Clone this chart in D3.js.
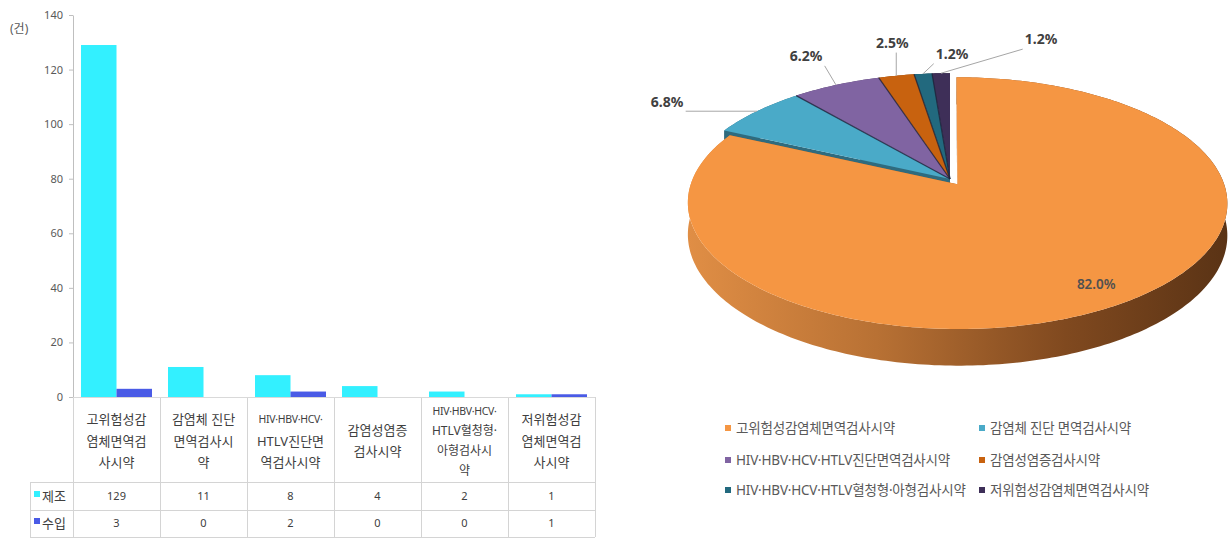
<!DOCTYPE html>
<html>
<head>
<meta charset="utf-8">
<script src="https://cdn.jsdelivr.net/npm/d3@7"></script>
<style>
  body { margin: 0; background: #fff; }
  svg { font-family: "Noto Sans", "Noto Sans CJK KR", sans-serif; }
</style>
</head>
<body>
<svg width="1231" height="540"></svg>
<script>
// ---- data ----
var categories = [
  "고위험성감염체면역검사시약",
  "감염체 진단 면역검사시약",
  "HIV·HBV·HCV·HTLV진단면역검사시약",
  "감염성염증검사시약",
  "HIV·HBV·HCV·HTLV혈청형·아형검사시약",
  "저위험성감염체면역검사시약"
];
// wrapped category labels as shown under the bars
var categoryLines = [
  ["고위험성감", "염체면역검", "사시약"],
  ["감염체 진단", "면역검사시", "약"],
  ["HIV·HBV·HCV·", "HTLV진단면", "역검사시약"],
  ["감염성염증", "검사시약"],
  ["HIV·HBV·HCV·", "HTLV혈청형·", "아형검사시", "약"],
  ["저위험성감", "염체면역검", "사시약"]
];
var seriesNames = ["제조", "수입"];
var manufacture = [129, 11, 8, 4, 2, 1];
var imported = [3, 0, 2, 0, 0, 1];
var yTicks = [0, 20, 40, 60, 80, 100, 120, 140];
var yUnit = "(건)";

var barColors = ["#33F0FF", "#4A5BE6"];
var pieColors = ["#F59643", "#4AAAC8", "#8064A2", "#C8620F", "#22697E", "#3E2F58"];

var svg = d3.select("svg");

// ---- left: grouped bar chart with data table ----
var x0 = d3.scaleBand().domain(categories).range([73, 595]);
var x1 = d3.scaleBand().domain(seriesNames).range([8, x0.bandwidth() - 8]);
var y = d3.scaleLinear().domain([0, 140]).range([397, 15]);

var yAxis = svg.append("g")
  .attr("transform", "translate(73,0)")
  .call(d3.axisLeft(y).tickValues(yTicks).tickSize(4).tickSizeOuter(0).tickPadding(6));
yAxis.select(".domain").attr("stroke", "#BFBFBF");
yAxis.selectAll(".tick line").attr("stroke", "#BFBFBF");
yAxis.selectAll("text")
  .attr("fill", "#595959")
  .style("font-size", "11px")
  .style("font-family", "'Noto Sans', sans-serif");

svg.append("text")
  .attr("x", 10).attr("y", 33)
  .attr("fill", "#595959")
  .style("font-size", "12px")
  .text(yUnit);

var seriesValues = [manufacture, imported];

var groups = svg.append("g")
  .selectAll("g")
  .data(categories)
  .enter()
  .append("g")
    .attr("transform", function(d) { return "translate(" + x0(d) + ",0)"; });

groups.selectAll("rect")
  .data(function(d, i) {
    return seriesNames.map(function(s, k) { return { s: s, k: k, v: seriesValues[k][i] }; });
  })
  .enter()
  .append("rect")
    .attr("x", function(d) { return x1(d.s); })
    .attr("width", x1.bandwidth())
    .attr("y", function(d) { return y(d.v); })
    .attr("height", function(d) { return y(0) - y(d.v); })
    .attr("fill", function(d) { return barColors[d.k]; });

// table grid
var grid = svg.append("g").attr("stroke", "#D4D4D4").attr("stroke-width", 1).attr("fill", "none");
var colEdges = categories.map(function(c) { return x0(c); }).concat([x0.range()[1]]);
colEdges.forEach(function(x) {
  grid.append("line").attr("x1", x + 0.5).attr("x2", x + 0.5).attr("y1", 397).attr("y2", 537);
});
grid.append("line").attr("x1", 30.5).attr("x2", 30.5).attr("y1", 482).attr("y2", 537);
[482, 510, 537].forEach(function(yy) {
  grid.append("line").attr("x1", 30).attr("x2", 595).attr("y1", yy + 0.5).attr("y2", yy + 0.5);
});
grid.append("line").attr("x1", 73).attr("x2", 595).attr("y1", 397.5).attr("y2", 397.5).attr("stroke", "#D9D9D9");

// category header text
groups.each(function(d, i) {
  var lines = categoryLines[i];
  var small = lines.length > 3;
  var lh = small ? 20 : 21.5;
  var y0 = 441 - (lines.length - 1) * lh / 2;
  var g = d3.select(this);
  lines.forEach(function(t, j) {
    var latin = /^HIV/.test(t);
    g.append("text")
      .attr("x", x0.bandwidth() / 2)
      .attr("y", y0 + j * lh)
      .attr("dy", "0.35em")
      .attr("text-anchor", "middle")
      .attr("fill", "#404040")
      .style("font-size", latin ? "10.5px" : (small ? "12px" : "13px"))
      .style("letter-spacing", latin ? "-0.3px" : "0px")
      .text(t);
  });
});

// table rows
var rowY = [496, 523];
seriesNames.forEach(function(s, k) {
  svg.append("rect")
    .attr("x", 34).attr("y", rowY[k] - 5).attr("width", 6).attr("height", 6)
    .attr("fill", barColors[k]);
  svg.append("text")
    .attr("x", 42).attr("y", rowY[k]).attr("dy", "0.35em")
    .attr("fill", "#404040").style("font-size", "13px")
    .text(s);
  groups.append("text")
    .attr("x", x0.bandwidth() / 2)
    .attr("y", rowY[k])
    .attr("dy", "0.35em")
    .attr("text-anchor", "middle")
    .attr("fill", "#404040")
    .style("font-size", "11px")
    .text(function(d, i) { return seriesValues[k][i]; });
});

// ---- right: 3D pie (perspective projection) ----
var pieValues = categories.map(function(c, i) { return manufacture[i] + imported[i]; });
var total = d3.sum(pieValues);
var slices = d3.pie().sort(null)(pieValues);

var P = { cx: 950, cy: 179, R: 265, Rt: 121.5, p: 0.148, D: 31 };
function proj(u, v, h) {
  var s = 1 / (1 - P.p * v);
  return [P.cx + P.R * u * s, P.cy + P.Rt * v * s + P.D * h * s];
}
slices.forEach(function(d, i) {
  var mid = (d.startAngle + d.endAngle) / 2;
  var e = i === 0 ? 0.052 : 0;
  d.du = e * Math.sin(mid);
  d.dv = -e * Math.cos(mid);
  d.mid = mid;
});
function pt(d, a, r, h) {
  return proj(d.du + r * Math.sin(a), d.dv - r * Math.cos(a), h);
}
function arcPts(d, a0, a1, h) {
  var n = Math.max(2, Math.ceil(Math.abs(a1 - a0) / (Math.PI / 180)) + 1);
  return d3.range(n).map(function(j) { return pt(d, a0 + (a1 - a0) * j / (n - 1), 1, h); });
}
var line = d3.line();

var defs = svg.append("defs");
var grad = defs.append("linearGradient")
  .attr("id", "sideGrad")
  .attr("gradientUnits", "userSpaceOnUse")
  .attr("x1", 688).attr("x2", 1227).attr("y1", 0).attr("y2", 0);
grad.append("stop").attr("offset", "0%").attr("stop-color", "#E08E45");
grad.append("stop").attr("offset", "35%").attr("stop-color", "#B87134");
grad.append("stop").attr("offset", "70%").attr("stop-color", "#80491F");
grad.append("stop").attr("offset", "100%").attr("stop-color", "#5A3315");

var pie = svg.append("g");
var order = d3.range(slices.length).reverse(); // back slices first, the big one last

// walls
order.forEach(function(i) {
  var d = slices[i];
  var dark = d3.color(pieColors[i]).darker(1.3).toString();
  // radial faces
  [d.startAngle, d.endAngle].forEach(function(a) {
    var q = [pt(d, a, 0, 0), pt(d, a, 1, 0), pt(d, a, 1, 1), pt(d, a, 0, 1)];
    pie.append("path").attr("d", line(q) + "Z").attr("fill", dark);
  });
  // outer wall
  var top = arcPts(d, d.startAngle, d.endAngle, 0);
  var bot = arcPts(d, d.startAngle, d.endAngle, 1).reverse();
  pie.append("path")
    .attr("d", line(top.concat(bot)) + "Z")
    .attr("fill", i === 0 ? "url(#sideGrad)" : dark);
});

// top faces
order.forEach(function(i) {
  var d = slices[i];
  var pts = [pt(d, 0, 0, 0)].concat(arcPts(d, d.startAngle, d.endAngle, 0));
  pie.append("path")
    .attr("d", line(pts) + "Z")
    .attr("fill", pieColors[i]);
});
// dark seams between the small slices
slices.slice(1).forEach(function(d, k) {
  if (k === 0) return;
  pie.append("path")
    .attr("d", line([pt(d, d.startAngle, 0, 0), pt(d, d.startAngle, 1, 0)]))
    .attr("stroke", "#1E2238").attr("stroke-width", 1.3).attr("stroke-opacity", 0.75);
});

// labels
var fmt = function(v) { return (v / total * 100).toFixed(1) + "%"; };
var labelNudge = [null, [-90, -9], [-30, -29], [-4, -33], [29, -20], [100, -34]];
slices.forEach(function(d, i) {
  if (i === 0) {
    var c = pt(d, d.mid, 0.86, 0);
    pie.append("text")
      .attr("x", c[0]).attr("y", c[1]).attr("dy", "0.35em")
      .attr("text-anchor", "middle")
      .attr("fill", "#505050")
      .style("font-size", "13.5px")
      .style("font-weight", "600")
      .text(fmt(d.value));
    return;
  }
  var rim = pt(d, d.mid, 1, 0);
  var lx = rim[0] + labelNudge[i][0], ly = rim[1] + labelNudge[i][1];
  var t = pie.append("text")
    .attr("x", lx).attr("y", ly).attr("dy", "0.35em")
    .attr("text-anchor", "middle")
    .attr("fill", "#404040")
    .style("font-size", "14px")
    .style("font-weight", "bold")
    .text(fmt(d.value));
  var b = t.node().getBBox();
  var ex = Math.max(b.x - 2, Math.min(rim[0], b.x + b.width + 2));
  var ey = Math.max(b.y - 1, Math.min(rim[1], b.y + b.height + 1));
  pie.insert("path", "text")
    .attr("d", line([rim, [ex, ey]]))
    .attr("stroke", "#A6A6A6").attr("stroke-width", 1).attr("fill", "none");
});

// legend
var legend = svg.append("g");
var legCols = [728, 982], legRows = [428, 460, 490];
categories.forEach(function(c, i) {
  var lx = legCols[i % 2], ly = legRows[Math.floor(i / 2)];
  legend.append("rect")
    .attr("x", lx - 3).attr("y", ly - 3).attr("width", 6).attr("height", 6)
    .attr("fill", pieColors[i]);
  legend.append("text")
    .attr("x", lx + 8).attr("y", ly).attr("dy", "0.35em")
    .attr("fill", "#595959")
    .style("font-size", "13.5px")
    .style("letter-spacing", "-0.2px")
    .text(c);
});
</script>
</body>
</html>
